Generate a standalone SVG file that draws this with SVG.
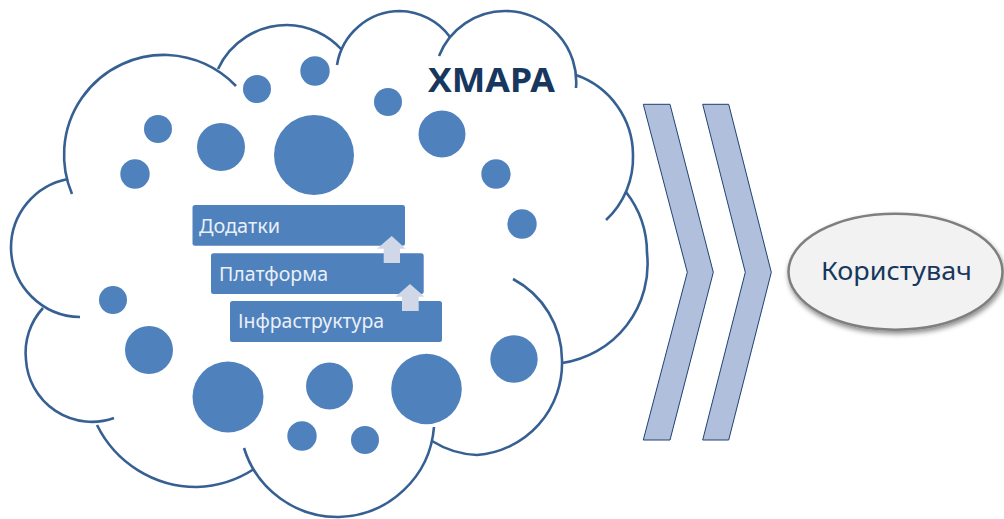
<svg xmlns="http://www.w3.org/2000/svg" width="1004" height="519" viewBox="0 0 1004 519">
<style>
.arc{fill:none;stroke:#366092;stroke-width:2.6}
.dot{fill:#4f81bd}
.bar{fill:#4f81bd}
.up{fill:#d0d8e8}
.chev{fill:#b0c0dc;stroke:#1f4272;stroke-width:1}
.lbl{font-family:"Noto Sans","Open Sans",sans-serif;font-size:20px;fill:#eaf0f7}
</style>
<defs>
<filter id="sh" x="-10%" y="-15%" width="125%" height="140%">
<feDropShadow dx="1" dy="3" stdDeviation="2.5" flood-color="#000" flood-opacity="0.45"/>
</filter>
</defs>
<rect width="1004" height="519" fill="#fff"/>
<g id="cloud">
<path class="arc" d="M68 179A70 70 0 0 0 11 248A70 70 0 0 0 80 317"/>
<path class="arc" d="M72 194A100 100 0 0 1 168 55A100 100 0 0 1 236 86"/>
<path class="arc" d="M218 69A76 76 0 0 1 287 25A76 76 0 0 1 342 50"/>
<path class="arc" d="M337 65A64 64 0 0 1 400 11A64 64 0 0 1 450 37"/>
<path class="arc" d="M439 56A71 71 0 0 1 505 11A71 71 0 0 1 576 88"/>
<path class="arc" d="M576 75A85 85 0 0 1 633 155A85 85 0 0 1 606 220"/>
<path class="arc" d="M626 192A100 100 0 0 1 647 253A100 100 0 0 1 562 363"/>
<path class="arc" d="M513 279A92 92 0 0 1 562 360A92 92 0 0 1 477 455A92 92 0 0 1 432 441"/>
<path class="arc" d="M434 427A98 98 0 0 1 339 517A98 98 0 0 1 244 448"/>
<path class="arc" d="M254 469A111 111 0 0 1 197 487A111 111 0 0 1 97 425"/>
<path class="arc" d="M114 418A66 66 0 0 1 26 360A66 66 0 0 1 43 308"/>
</g>
<g id="dots">
<circle class="dot" cx="257" cy="89" r="14"/>
<circle class="dot" cx="315" cy="71" r="14.7"/>
<circle class="dot" cx="388" cy="102" r="14"/>
<circle class="dot" cx="158" cy="129" r="14"/>
<circle class="dot" cx="221" cy="147" r="24"/>
<circle class="dot" cx="314" cy="155" r="40"/>
<circle class="dot" cx="442" cy="134" r="23.5"/>
<circle class="dot" cx="135" cy="174" r="14.7"/>
<circle class="dot" cx="496" cy="174" r="14.7"/>
<circle class="dot" cx="522" cy="224" r="14.7"/>
<circle class="dot" cx="113" cy="300" r="14"/>
<circle class="dot" cx="149" cy="350" r="24"/>
<circle class="dot" cx="228" cy="397" r="35.5"/>
<circle class="dot" cx="329.500" cy="386" r="23.5"/>
<circle class="dot" cx="426.500" cy="389" r="35.3"/>
<circle class="dot" cx="514" cy="359" r="23.7"/>
<circle class="dot" cx="302" cy="436" r="14.7"/>
<circle class="dot" cx="365" cy="440" r="14"/>
</g>
<g id="title">
<text x="491.500" y="92" text-anchor="middle" font-family="'Noto Sans','Open Sans',sans-serif" font-size="34" font-weight="700" fill="#17375e" textLength="127" lengthAdjust="spacingAndGlyphs">ХМАРА</text>
</g>
<g id="node-dodatky">
<rect class="bar" x="192.500" y="205" width="212.500" height="40.700" rx="2.500"/>
<text class="lbl" x="199" y="233" textLength="81" lengthAdjust="spacingAndGlyphs">Додатки</text>
</g>
<g id="node-platforma">
<rect class="bar" x="211" y="253.300" width="212.700" height="40.700" rx="2.500"/>
<text class="lbl" x="219" y="281" textLength="109" lengthAdjust="spacingAndGlyphs">Платформа</text>
</g>
<g id="node-infrastruktura">
<rect class="bar" x="230" y="301" width="212" height="41" rx="2.500"/>
<text class="lbl" x="238" y="328" textLength="146" lengthAdjust="spacingAndGlyphs">Інфраструктура</text>
</g>
<g id="node-user">
<ellipse cx="895.500" cy="271.700" rx="107" ry="58" fill="#f2f2f2" stroke="#7f7f7f" stroke-width="2.500" filter="url(#sh)"/>
<text x="896.500" y="280" text-anchor="middle" font-family="'Noto Sans','Open Sans',sans-serif" font-size="25" fill="#17375e" textLength="151" lengthAdjust="spacingAndGlyphs">Користувач</text>
</g>
<g id="connectors">
<path class="up" d="M391.700 236L405.700 248.700H400V263H383.700V248.700H377Z"/>
<path class="up" d="M410 284L424.500 296.700H418.700V311H402V296.700H395.500Z"/>
<path class="chev" d="M643.300 104.300H670L713.300 272.300L670 440H643.300L687.300 272.300Z"/>
<path class="chev" d="M702.700 104.300H728.700L771.300 272.300L728.700 440H702.700L745.300 272.300Z"/>
</g>
</svg>
